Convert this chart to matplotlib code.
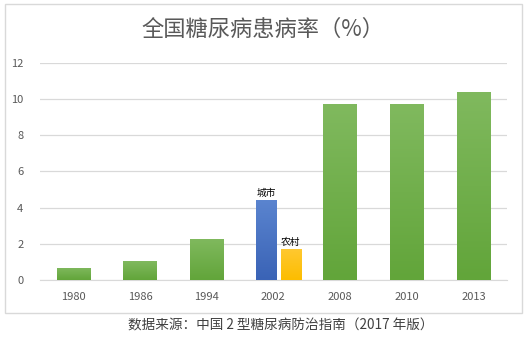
import matplotlib
matplotlib.use("Agg")
import matplotlib.pyplot as plt
import numpy as np
from matplotlib.colors import LinearSegmentedColormap
from matplotlib.patches import Rectangle

plt.rcParams['font.family'] = ['Noto Sans CJK SC', 'DejaVu Sans']

years = ['1980', '1986', '1994', '2002', '2008', '2010', '2013']
national = [0.67, 1.04, 2.28, None, 9.7, 9.7, 10.4]
urban_2002 = 4.4
rural_2002 = 1.7
title = '全国糖尿病患病率（%）'
source = '数据来源：中国 2 型糖尿病防治指南（2017 年版）'

fig = plt.figure(figsize=(5.28, 3.51), dpi=100)
ax = fig.add_axes([40/528, 1-280/351, (506.7-40)/528, (280-62.7)/351])

x = np.arange(len(years))
gx = [i for i, v in enumerate(national) if v is not None]
gv = [v for v in national if v is not None]
green = ax.bar(gx, gv, width=0.5, color='#70ad47', zorder=3)
i2002 = years.index('2002')
blue = ax.bar([i2002 - 0.11], [urban_2002], width=0.3, color='#4472c4', zorder=3)
yellow = ax.bar([i2002 + 0.26], [rural_2002], width=0.3, color='#ffc000', zorder=3)

def gradient(bars, top, bottom):
    cmap = LinearSegmentedColormap.from_list('g', [bottom, top])
    grad = np.linspace(0, 1, 64).reshape(-1, 1)
    for b in bars:
        x0, y0 = b.get_x(), b.get_y()
        w, h = b.get_width(), b.get_height()
        im = ax.imshow(grad, cmap=cmap, origin='lower', aspect='auto',
                       extent=(x0, x0 + w, y0, y0 + h), zorder=3.5,
                       interpolation='bilinear')
        im.set_clip_path(b)

gradient(green, '#80b95e', '#62a53a')
gradient(blue, '#5a84cf', '#3a63b6')
gradient(yellow, '#ffc830', '#fcbd00')

ax.set_xlim(-0.5, len(years) - 0.5)
ax.set_ylim(0, 12)
ax.set_yticks(np.arange(0, 13, 2))
ax.set_xticks(x)
ax.set_xticklabels(years)
ax.grid(axis='y', color='#d9d9d9', linewidth=0.9, zorder=0)
ax.set_axisbelow(True)
for s in ['top', 'right', 'left']:
    ax.spines[s].set_visible(False)
ax.spines['bottom'].set_color('#d9d9d9')
ax.tick_params(axis='both', length=0, labelsize=8, colors='#595959')
ax.tick_params(axis='y', pad=12)
ax.tick_params(axis='x', pad=9)

ax.text(blue[0].get_x() + blue[0].get_width()/2, urban_2002 + 0.15, '城市',
        ha='center', va='bottom', fontsize=7, color='#000000')
ax.text(yellow[0].get_x() + yellow[0].get_width()/2, rural_2002 + 0.15, '农村',
        ha='center', va='bottom', fontsize=7, color='#000000')

fig.text(263/528, 1-29/351, title, ha='center', va='center', fontsize=16,
         color='#595959')
fig.text(281/528, 1-325/351, source, ha='center', va='center', fontsize=9.8,
         color='#404040')

fig.add_artist(Rectangle((5/528, 1-313/351), (521.5-5)/528, (313-4)/351,
                         transform=fig.transFigure, fill=False,
                         edgecolor='#d9d9d9', linewidth=1.0))

fig.savefig('out.png', dpi=100)
